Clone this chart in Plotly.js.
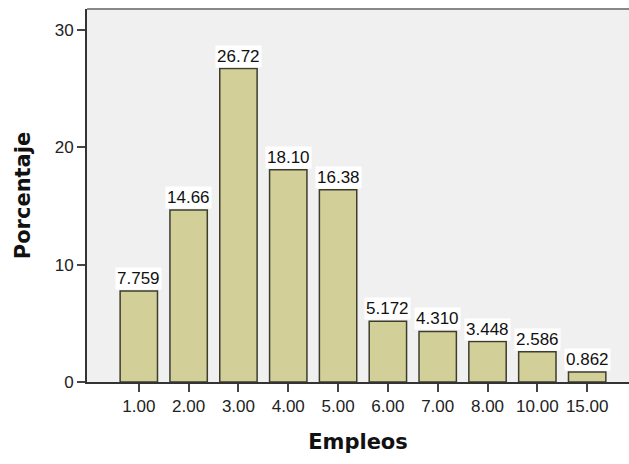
<!DOCTYPE html>
<html>
<head>
<meta charset="utf-8">
<script src="https://cdn.plot.ly/plotly-3.0.1.min.js"></script>
<style>html,body{margin:0;padding:0;background:#fff;}#chart{width:629px;height:464px;}</style>
</head>
<body>
<div id="chart"></div>
<script>
const categories = ["1.00","2.00","3.00","4.00","5.00","6.00","7.00","8.00","10.00","15.00"];
const percentages = [7.759,14.66,26.72,18.10,16.38,5.172,4.310,3.448,2.586,0.862];
const valueLabels = ["7.759","14.66","26.72","18.10","16.38","5.172","4.310","3.448","2.586","0.862"];
const yTicks = [0,10,20,30];

const FONT = "Liberation Sans, Arial, sans-serif";

const trace = {
  type: "bar",
  x: categories,
  y: percentages,
  width: 0.75,
  marker: {color: "#d3cf98", line: {color: "#3d3d2e", width: 1.5}},
  hoverinfo: "none"
};

const annotations = categories.map((c, i) => ({
  x: i, y: percentages[i], xref: "x", yref: "y",
  text: valueLabels[i], showarrow: false,
  yanchor: "bottom", yshift: 1,
  bgcolor: "#ffffff", borderpad: 1,
  font: {family: FONT, size: 17, color: "#111"}
}));

const layout = {
  width: 629, height: 464,
  margin: {l: 87, r: 0, t: 9, b: 82},
  paper_bgcolor: "#ffffff",
  plot_bgcolor: "#f0f0f0",
  showlegend: false,
  bargap: 0.25,
  xaxis: {
    type: "category",
    range: [-1.04, 9.84],
    showgrid: false, zeroline: false,
    showline: true, linecolor: "#333", linewidth: 2,
    ticks: "outside", ticklen: 8, tickwidth: 2, tickcolor: "#444",
    tickfont: {family: FONT, size: 17, color: "#222"},
    title: {text: "Empleos", standoff: 19, font: {family: "DejaVu Sans, sans-serif", size: 21, color: "#111", weight: "bold"}}
  },
  yaxis: {
    range: [0, 31.8],
    tickvals: yTicks,
    showgrid: false, zeroline: false,
    showline: true, linecolor: "#333", linewidth: 2,
    ticks: "outside", ticklen: 8, tickwidth: 2, tickcolor: "#444",
    tickfont: {family: FONT, size: 17, color: "#222"},
    title: {text: "Porcentaje", standoff: 18, font: {family: "DejaVu Sans, sans-serif", size: 21, color: "#111", weight: "bold"}}
  },
  shapes: [{type: "line", xref: "paper", yref: "paper", x0: 0, x1: 1, y0: 1, y1: 1, line: {color: "#888", width: 2}}],
  annotations: annotations
};

Plotly.newPlot("chart", [trace], layout, {displayModeBar: false, staticPlot: true});
</script>
</body>
</html>
